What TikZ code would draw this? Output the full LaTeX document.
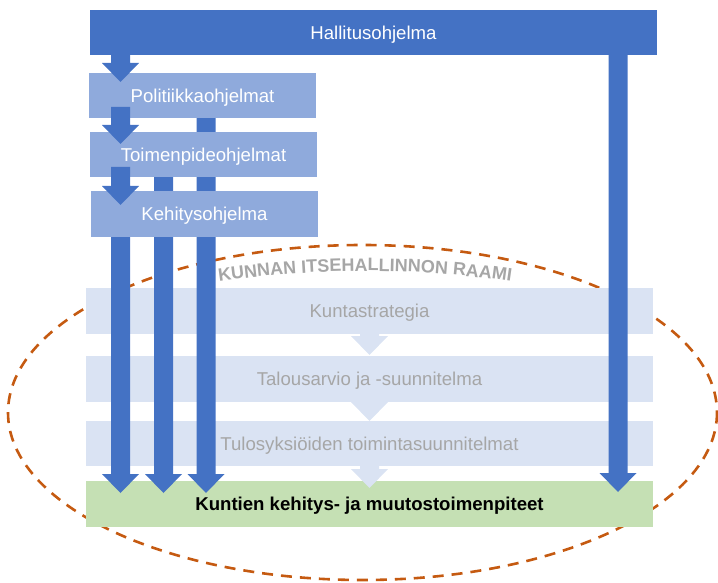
\documentclass[tikz,border=0pt]{standalone}
\usepackage{fontspec}
\setmainfont{Liberation Sans}
\usetikzlibrary{calc,decorations.text}
\definecolor{hblue}{HTML}{4472C4}
\definecolor{mblue}{HTML}{8FAADC}
\definecolor{lblue}{HTML}{DAE3F3}
\definecolor{lgreen}{HTML}{C5E0B4}
\definecolor{ltext}{HTML}{A6A6A6}
\definecolor{dorange}{HTML}{C55A11}
\tikzset{
  box/.style={inner sep=0pt, minimum height=45.5pt, text height=13.3pt, text depth=0pt,
    font=\fontsize{18.6}{22}\selectfont},
  topbox/.style={box, fill=hblue, text=white, minimum width=567pt},
  progbox/.style={box, fill=mblue, text=white, minimum width=227pt},
  lightbox/.style={box, fill=lblue, text=ltext, minimum width=567pt},
  greenbox/.style={box, fill=lgreen, text=black, minimum width=567pt,
    font=\fontsize{18.6}{22}\selectfont\bfseries},
  barrow/.style={to path={let \p1=(\tikztostart), \p2=(\tikztotarget) in
    ({\x1-9.5pt},\y1) -- ({\x1-9.5pt},{\y2+19pt}) -- ({\x1-18.5pt},{\y2+19pt}) --
    (\x1,\y2) -- ({\x1+18.5pt},{\y2+19pt}) -- ({\x1+9.5pt},{\y2+19pt}) --
    ({\x1+9.5pt},\y1) -- cycle}},
  darkarrow/.style={fill=hblue},
  lightarrow/.style={fill=lblue},
  frame/.style={draw=dorange, line width=2.6pt, dash pattern=on 11pt off 8pt}
}
\begin{document}
\begin{tikzpicture}[x=1pt,y=-1pt]
\useasboundingbox (0,0) rectangle (718,583);

% dashed frame of municipal self-government
\draw[frame] (362.5,412.5) ellipse [x radius=354.5, y radius=167.5];
\path[decorate, decoration={text along path, text align=center, text color=ltext,
    text={|\fontsize{18}{20}\selectfont\bfseries|KUNNAN ITSEHALLINNON RAAMI}}]
  (190,286.3) .. controls (306.7,265.9) and (423.3,265.9) .. (540,286.3);

% municipal level boxes
\node[lightbox] (kst) at (369.5,311) {Kuntastrategia};
\node[lightbox] (tal) at (369.5,379) {Talousarvio ja -suunnitelma};
\node[lightbox] (tul) at (369.5,443.5) {Tulosyksiöiden toimintasuunnitelmat};
\node[greenbox] (kun) at (369.5,504) {Kuntien kehitys- ja muutostoimenpiteet};

% light arrows
\coordinate (la1s) at (369.5,333);
\coordinate (la1e) at (369.5,355);
\coordinate (la2s) at (369.5,401);
\coordinate (la2e) at (369.5,421);
\coordinate (la3s) at (369.5,466);
\coordinate (la3e) at (369.5,488);
\path[lightarrow] (la1s) to[barrow] (la1e);
\path[lightarrow] (la2s) to[barrow] (la2e);
\path[lightarrow] (la3s) to[barrow] (la3e);

% long arrows
\coordinate (l1s) at (120.5,230);
\coordinate (l1e) at (120.5,493);
\coordinate (l2s) at (163.5,172);
\coordinate (l2e) at (163.5,493);
\coordinate (l3s) at (206,112);
\coordinate (l3e) at (206,493);
\coordinate (l4s) at (618,50);
\coordinate (l4e) at (618,492);
\path[darkarrow] (l1s) to[barrow] (l1e);
\path[darkarrow] (l2s) to[barrow] (l2e);
\path[darkarrow] (l3s) to[barrow] (l3e);
\path[darkarrow] (l4s) to[barrow] (l4e);

% state level boxes
\node[topbox] (hal) at (373.5,32.75) {Hallitusohjelma};
\node[progbox] (pol) at (202.5,95.5) {Politiikkaohjelmat};
\node[progbox] (toi) at (203.5,154.5) {Toimenpideohjelmat};
\node[progbox] (keh) at (204.5,213.75) {Kehitysohjelma};

% short arrows
\coordinate (a1s) at (120.5,50);
\coordinate (a1e) at (120.5,82);
\coordinate (a2s) at (120.5,107);
\coordinate (a2e) at (120.5,144);
\coordinate (a3s) at (120.5,167);
\coordinate (a3e) at (120.5,205);
\path[darkarrow] (a1s) to[barrow] (a1e);
\path[darkarrow] (a2s) to[barrow] (a2e);
\path[darkarrow] (a3s) to[barrow] (a3e);
\end{tikzpicture}
\end{document}
